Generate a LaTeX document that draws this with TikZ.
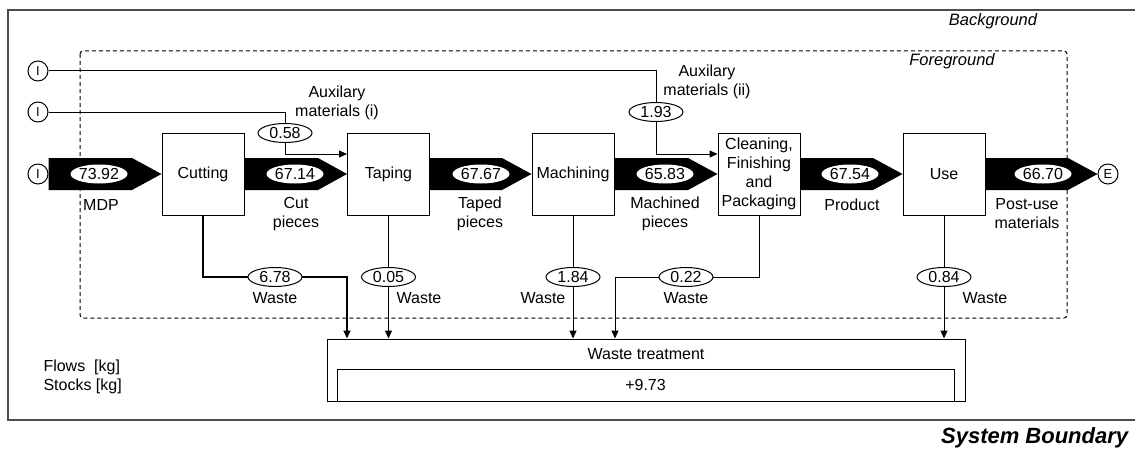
\documentclass[tikz,border=0pt]{standalone}
\usepackage{fontspec}
\setmainfont{Liberation Sans}
\usetikzlibrary{shapes.geometric,arrows.meta}
\begin{document}
\begin{tikzpicture}[x=1pt,y=-1pt,
  font=\fontsize{16}{19}\selectfont,
  line width=1pt,
  proc/.style={draw, fill=white, minimum width=82pt, minimum height=82pt, inner sep=0pt, align=center},
  val/.style={draw, ellipse, fill=white, minimum width=54pt, minimum height=19pt, inner sep=0pt},
  fval/.style={ellipse, fill=white, minimum width=57pt, minimum height=19pt, inner sep=0pt},
  term/.style={draw, circle, fill=white, minimum size=20pt, inner sep=0pt, font=\fontsize{13}{15}\selectfont},
  flowto/.style={-{Triangle[length=8pt,width=7pt]}},
  lab/.style={align=center, inner sep=0pt},
  bigflow/.style={fill=black},
]
\useasboundingbox (0,0) rectangle (1135,452);

% system boundary
\draw[black!70, line width=1.6pt] (1140,10) -- (8,10) -- (8,420) -- (1140,420);
\node[font=\fontsize{16.5}{19}\selectfont\itshape] (bg) at (993,21) {Background};
\node[anchor=east, font=\fontsize{22}{26}\selectfont\bfseries\itshape] (sb) at (1132,438) {System Boundary};

% foreground
\draw[dashed, dash pattern=on 4pt off 3pt, rounded corners=3pt] (80,51) rectangle (1067,318);
\node[font=\fontsize{16.5}{19}\selectfont\itshape] (fg) at (952,61) {Foreground};

% terminals
\node[term] (i1) at (38,71) {I};
\node[term] (i2) at (38,112) {I};
\node[term] (i3) at (38,174) {I};
\node[term] (e1) at (1108,174) {E};

% processes
\node[proc] (cut) at (203,174) {Cutting};
\node[proc] (tap) at (388.5,174) {Taping};
\node[proc] (mac) at (573,174) {Machining};
\node[proc] (cln) at (759,174) {Cleaning,\\Finishing\\and\\Packaging};
\node[proc] (use) at (944,174) {Use};

% waste treatment
\node[draw, minimum width=638pt, minimum height=62pt, inner sep=0pt] (wt) at (646,370) {};
\node[lab] (wtl) at (646,354) {Waste treatment};
\node[draw, minimum width=617pt, minimum height=32pt, inner sep=0pt] (stk) at (645.5,385) {+9.73};

% main flows
\fill[bigflow] (i3.east |- 0,158) -- (132,158) -- (cut.west) -- (132,190) -- (i3.east |- 0,190) -- cycle;
\fill[bigflow] (cut.east |- 0,158) -- (318,158) -- (tap.west) -- (318,190) -- (cut.east |- 0,190) -- cycle;
\fill[bigflow] (tap.east |- 0,158) -- (502,158) -- (mac.west) -- (502,190) -- (tap.east |- 0,190) -- cycle;
\fill[bigflow] (mac.east |- 0,158) -- (688,158) -- (cln.west) -- (688,190) -- (mac.east |- 0,190) -- cycle;
\fill[bigflow] (cln.east |- 0,158) -- (873,158) -- (use.west) -- (873,190) -- (cln.east |- 0,190) -- cycle;
\fill[bigflow] (use.east |- 0,158) -- (1068,158) -- (e1.west) -- (1068,190) -- (use.east |- 0,190) -- cycle;

\node[fval] (f1) at (99,174) {73.92};
\node[fval] (f2) at (295,174) {67.14};
\node[fval] (f3) at (481,174) {67.67};
\node[fval] (f4) at (665,174) {65.83};
\node[fval] (f5) at (850,174) {67.54};
\node[fval] (f6) at (1043,174) {66.70};

\node[lab] (l1) at (101,205) {MDP};
\node[lab] (l2) at (296,214) {Cut\\pieces};
\node[lab] (l3) at (480,214) {Taped\\pieces};
\node[lab] (l4) at (665,214) {Machined\\pieces};
\node[lab] (l5) at (852,205) {Product};
\node[lab] (l6) at (1027,214) {Post-use\\materials};

% auxiliary materials
\coordinate (a1) at (285,154);
\coordinate (a2) at (656,154);
\draw[flowto] (i2.east) -| (a1) -- (a1 -| tap.west);
\draw[flowto] (i1.east) -| (a2) -- (a2 -| cln.west);
\node[val] (v1) at (285,133) {0.58};
\node[val] (v2) at (656,112) {1.93};
\node[lab] (t1) at (337,102.5) {Auxilary\\materials (i)};
\node[lab] (t2) at (707,81.5) {Auxilary\\materials (ii)};

% waste flows
\coordinate (w1) at (347,277);
\coordinate (w4) at (615,277);
\draw[flowto, line width=2pt] (cut.south) |- (w1) -- (w1 |- wt.north);
\draw[flowto] (tap.south) -- (tap.south |- wt.north);
\draw[flowto] (mac.south) -- (mac.south |- wt.north);
\draw[flowto] (cln.south) |- (w4) -- (w4 |- wt.north);
\draw[flowto] (use.south) -- (use.south |- wt.north);

\node[val] (v3) at (275,277) {6.78};
\node[val] (v4) at (388.5,277) {0.05};
\node[val] (v5) at (573,277) {1.84};
\node[val] (v6) at (686,277) {0.22};
\node[val] (v7) at (944,277) {0.84};

\node[lab] (x1) at (275,298) {Waste};
\node[lab] (x2) at (419,298) {Waste};
\node[lab] (x3) at (543,298) {Waste};
\node[lab] (x4) at (686,298) {Waste};
\node[lab] (x5) at (985,298) {Waste};

% legend
\node[lab, anchor=north west, align=left] (leg) at (43,359) {Flows~~[kg]\\Stocks [kg]};
\end{tikzpicture}
\end{document}
